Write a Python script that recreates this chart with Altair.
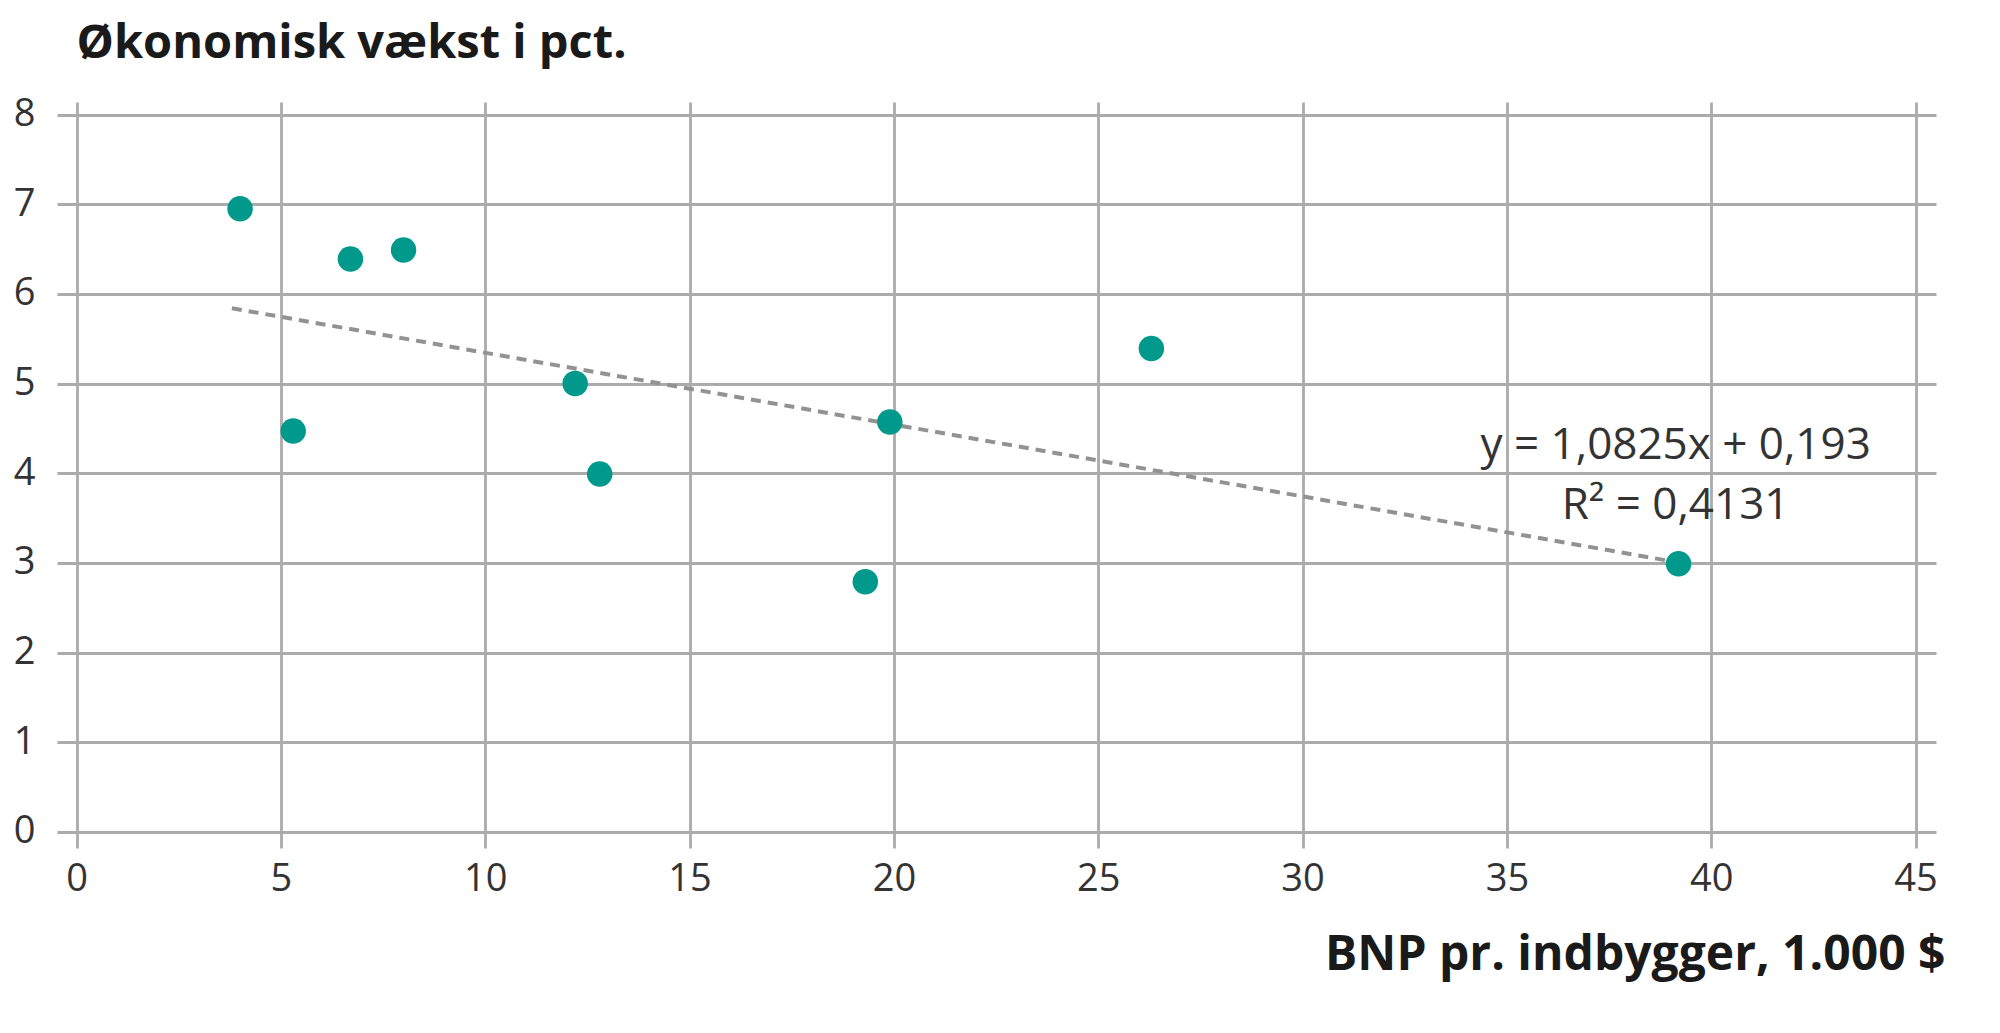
import altair as alt
import pandas as pd

# Data
gdp = [4.0, 5.3, 6.7, 8.0, 12.2, 12.8, 19.3, 19.9, 26.3, 39.2]
growth = [6.95, 4.47, 6.39, 6.49, 5.00, 3.99, 2.79, 4.57, 5.39, 2.99]

trend_x = [3.8, 39.0]
trend_y = [5.84, 3.02]

eq_lines = ["y = 1,0825x + 0,193", "R² = 0,4131"]
eq_x = [39.13, 39.13]
eq_y = [4.16, 3.49]

x_ticks = [0, 5, 10, 15, 20, 25, 30, 35, 40, 45]
y_ticks = [0, 1, 2, 3, 4, 5, 6, 7, 8]

pts = pd.DataFrame({"x": gdp, "y": growth})
trend = pd.DataFrame({"x": trend_x, "y": trend_y})
eq = pd.DataFrame({"x": eq_x, "y": eq_y, "t": eq_lines})

FONT = "Open Sans"
TEAL = "#00998b"

x_scale = alt.Scale(domain=[-0.48, 45.5], nice=False, zero=False)
y_scale = alt.Scale(domain=[-0.18, 8.14], nice=False, zero=False)

x_axis = alt.Axis(
    values=x_ticks, format="d", grid=True, gridColor="#ababab", gridWidth=2.8,
    domain=False, ticks=False, tickSize=0, labelPadding=12,
    labelFont=FONT, labelFontSize=38, labelColor="#333333",
    title="BNP pr. indbygger, 1.000 $", titleFont=FONT, titleFontSize=48,
    titleFontWeight="bold", titleColor="#1a1a1a", titleAlign="right",
    titleBaseline="alphabetic", titleX=1888, titleY=121, titleAngle=0,
)
y_axis = alt.Axis(
    values=y_ticks, format="d", grid=True, gridColor="#ababab", gridWidth=2.8,
    domain=False, ticks=False, tickSize=0, labelPadding=22,
    labelFont=FONT, labelFontSize=38, labelColor="#333333",
    title="Økonomisk vækst i pct.", titleFont=FONT, titleFontSize=47,
    titleFontWeight="bold", titleColor="#1a1a1a", titleAlign="left",
    titleBaseline="alphabetic", titleX=19, titleY=-45, titleAngle=0,
)

base_line = alt.Chart(trend).mark_line(
    color="#929292", strokeWidth=4, strokeDash=[10, 7]
).encode(
    x=alt.X("x:Q", scale=x_scale, axis=x_axis),
    y=alt.Y("y:Q", scale=y_scale, axis=y_axis),
)

points = alt.Chart(pts).mark_circle(size=650, color=TEAL, opacity=1).encode(
    x=alt.X("x:Q", scale=x_scale),
    y=alt.Y("y:Q", scale=y_scale),
)

text = alt.Chart(eq).mark_text(
    font=FONT, fontSize=44, color="#333333", align="center", baseline="alphabetic"
).encode(
    x=alt.X("x:Q", scale=x_scale),
    y=alt.Y("y:Q", scale=y_scale),
    text="t:N",
)

chart = alt.layer(base_line, points, text).properties(
    width=1879, height=746,
    autosize=alt.AutoSizeParams(type="none"),
    padding={"left": 49, "top": 94, "right": 50, "bottom": 170},
    background="white",
).configure_view(stroke=None)

chart.save("out.html", embed_options={"renderer": "svg", "actions": False})
